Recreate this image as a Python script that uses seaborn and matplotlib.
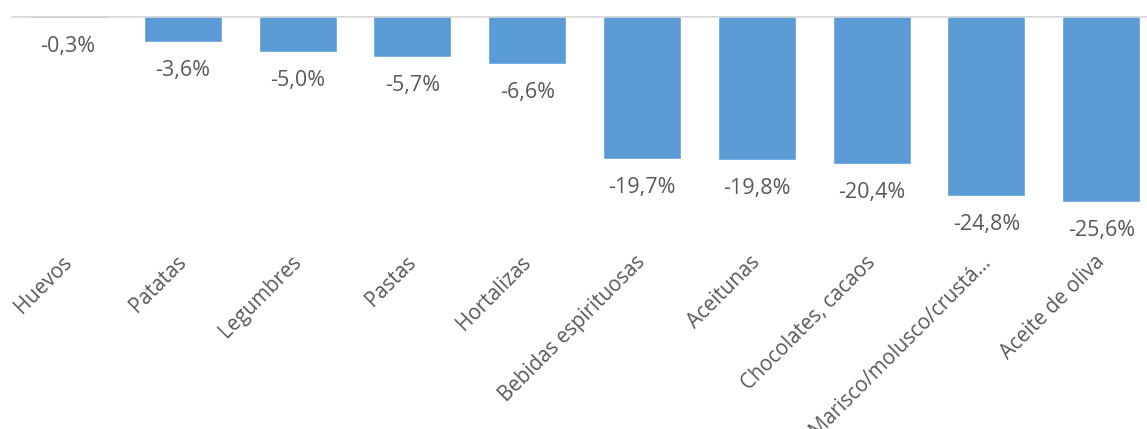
import matplotlib
matplotlib.use("Agg")
import matplotlib.pyplot as plt
import matplotlib.transforms as mtransforms
import seaborn as sns
import pandas as pd

categories = ["Huevos", "Patatas", "Legumbres", "Pastas", "Hortalizas",
              "Bebidas espirituosas", "Aceitunas", "Chocolates, cacaos",
              "Marisco/molusco/crustá…", "Aceite de oliva"]
values = [-0.3, -3.6, -5.0, -5.7, -6.6, -19.7, -19.8, -20.4, -24.8, -25.6]
value_labels = [f"{v:.1f}%".replace(".", ",") for v in values]

sns.set_theme(style="white")
plt.rcParams["font.family"] = ["Open Sans", "DejaVu Sans"]

TEXT = "#595959"
BAR = "#5B9BD5"
FS = 15.5
FS_TICK = 14.8

fig = plt.figure(figsize=(11.47, 4.29), dpi=100)
W, H = 1147, 429
left_px = 10.6
right_px = 1158.6
top_px = 16
bottom_px = 252
ax = fig.add_axes([left_px / W, 1 - bottom_px / H, (right_px - left_px) / W, (bottom_px - top_px) / H])

df = pd.DataFrame({"cat": categories, "val": values})
sns.barplot(data=df, x="cat", y="val", color=BAR, saturation=1, width=0.68, ax=ax)

ax.set_xlim(-0.5, len(categories) - 0.5)
ax.set_ylim(-(bottom_px - top_px) / 7.26, 0)
ax.axhline(0, color="#D9D9D9", linewidth=1.8, zorder=5)

ax.bar_label(ax.containers[0], labels=value_labels, padding=13, fontsize=FS, color=TEXT)

ax.set_xlabel("")
ax.set_ylabel("")
ax.set_yticks([])
for s in ax.spines.values():
    s.set_visible(False)
ax.tick_params(axis="x", length=0, pad=2, labelsize=FS_TICK, labelcolor=TEXT)
offset = mtransforms.ScaledTranslation(8 / 100, 3 / 100, fig.dpi_scale_trans)
for lab in ax.get_xticklabels():
    lab.set_rotation(45)
    lab.set_ha("right")
    lab.set_va("top")
    lab.set_transform(lab.get_transform() + offset)

fig.savefig("out.png", dpi=100)
